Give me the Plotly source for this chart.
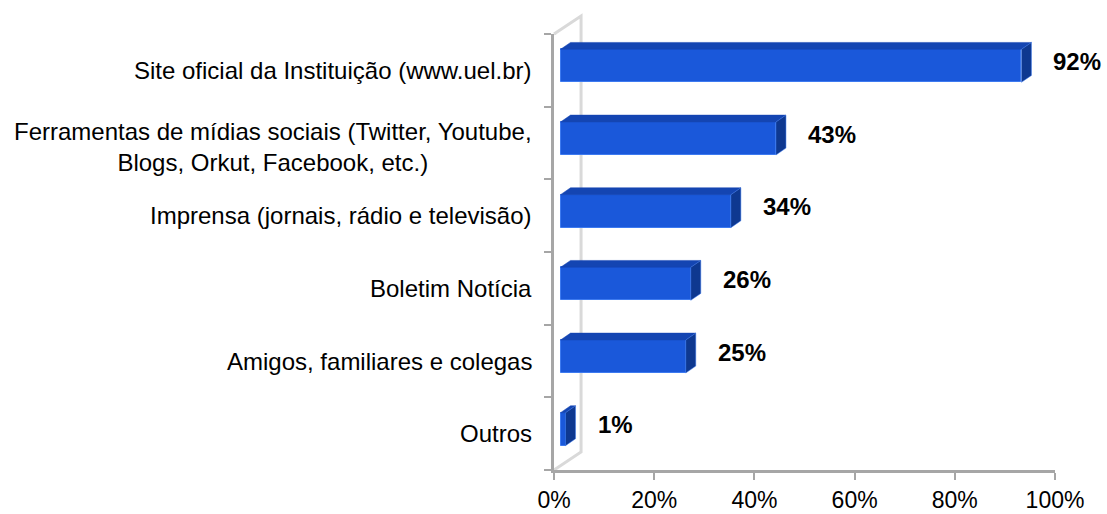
import plotly.graph_objects as go

# ---- data ----
categories = [
    "Site oficial da Instituição (www.uel.br)",
    "Ferramentas de mídias sociais (Twitter, Youtube,<br>Blogs, Orkut, Facebook, etc.)",
    "Imprensa (jornais, rádio e televisão)",
    "Boletim Notícia",
    "Amigos, familiares e colegas",
    "Outros",
]
values = [92, 43, 34, 26, 25, 1]
value_labels = ["92%", "43%", "34%", "26%", "25%", "1%"]
x_ticks = [0, 20, 40, 60, 80, 100]
x_tick_labels = ["0%", "20%", "40%", "60%", "80%", "100%"]

# ---- style / 3D geometry (in axis units) ----
FONT = "Liberation Sans, Arial, sans-serif"
FS = 24
C_FRONT = "#1a58da"
C_TOP = "#1445b2"
C_SIDE = "#0e3890"
C_EDGE = "#3d7af0"
AX_COL = "#a6a6a6"
WALL_COL = "#d9d9d9"

n = len(categories)
pos = [n - 1 - i for i in range(n)]          # top category at the top
dxf, dyf = 1.3, 0.062                          # front face offset
dxb, dyb = 3.3, 0.157                          # back face offset
bh = 0.454                                     # bar thickness
dxw, dyw = 5.4, 0.248                          # side wall depth
X_MAX = 100
Y_RANGE = [-0.5, n - 0.5]

fig = go.Figure()

# side wall outline inside the plot area (base axes, underneath the bar layer)
fig.add_trace(go.Scatter(
    x=[0, dxw, dxw, 0],
    y=[Y_RANGE[1], Y_RANGE[1] + dyw, Y_RANGE[0] + dyw, Y_RANGE[0]],
    mode="lines", line=dict(color=WALL_COL, width=3),
    hoverinfo="skip", showlegend=False, xaxis="x", yaxis="y"))

# upper edge of the wall, which lies above the plot area
wx = dxw / X_MAX
wy = dyw / n
fig.add_shape(type="path", xref="x domain", yref="y domain", layer="above",
              path=f"M 0,1 L {wx},{1 + wy} L {wx},1",
              line=dict(color=WALL_COL, width=3))

# front faces (overlay axes, so they sit on top of the wall)
fig.add_trace(go.Bar(
    orientation="h", x=values, base=[dxf] * n,
    y=[p + dyf for p in pos], width=bh,
    marker=dict(color=C_FRONT, line=dict(color=C_EDGE, width=1)),
    showlegend=False, hoverinfo="skip", xaxis="x2", yaxis="y2"))

# top faces and side faces
tx, ty, sx, sy = [], [], [], []
for v, p in zip(values, pos):
    yf_top = p + dyf + bh / 2
    yb_top = p + dyb + bh / 2
    yf_bot = p + dyf - bh / 2
    yb_bot = p + dyb - bh / 2
    tx += [dxf, dxf + v, dxb + v, dxb, dxf, None]
    ty += [yf_top, yf_top, yb_top, yb_top, yf_top, None]
    sx += [dxf + v, dxf + v, dxb + v, dxb + v, dxf + v, None]
    sy += [yf_bot, yf_top, yb_top, yb_bot, yf_bot, None]

fig.add_trace(go.Scatter(x=tx, y=ty, mode="lines", fill="toself",
                         fillcolor=C_TOP, line=dict(color=C_TOP, width=0.5),
                         hoverinfo="skip", showlegend=False,
                         xaxis="x2", yaxis="y2"))
fig.add_trace(go.Scatter(x=sx, y=sy, mode="lines", fill="toself",
                         fillcolor=C_SIDE, line=dict(color=C_EDGE, width=0.5),
                         hoverinfo="skip", showlegend=False,
                         xaxis="x2", yaxis="y2"))

# category labels
for c, p in zip(categories, pos):
    fig.add_annotation(x=0, y=p, xref="x", yref="y", text=c, showarrow=False,
                       xanchor="right", yanchor="middle", align="center",
                       xshift=-20, yshift=(-4 if "<br>" in c else 0),
                       font=dict(family=FONT, size=FS, color="#000"))

# value labels
for v, p, t in zip(values, pos, value_labels):
    fig.add_annotation(x=v + dxb, y=p + 0.12, xref="x", yref="y", text="<b>" + t + "</b>",
                       showarrow=False, xanchor="left", yanchor="middle",
                       xshift=20, font=dict(family=FONT, size=FS, color="#000"))

fig.update_layout(
    width=1107, height=514,
    margin=dict(l=554, r=52, t=34, b=44),
    paper_bgcolor="white", plot_bgcolor="white",
    bargap=0,
    font=dict(family=FONT, size=FS, color="#000"),
    xaxis=dict(range=[0, X_MAX], tickvals=x_ticks, ticktext=x_tick_labels,
               showgrid=False, zeroline=False, showline=True, automargin=False,
               linecolor=AX_COL, linewidth=3, ticks="outside", ticklen=7,
               tickwidth=2, tickcolor=AX_COL,
               tickfont=dict(size=23, color="#000")),
    yaxis=dict(range=Y_RANGE, automargin=False,
               tickvals=[i - 0.5 for i in range(n + 1)],
               ticktext=[""] * (n + 1),
               showgrid=False, zeroline=False, showline=True,
               linecolor=AX_COL, linewidth=3, ticks="outside", ticklen=7,
               tickwidth=2, tickcolor=AX_COL),
    xaxis2=dict(range=[0, X_MAX], overlaying="x", visible=False),
    yaxis2=dict(range=Y_RANGE, overlaying="y", visible=False),
)

fig.write_html("out.html", config={"displayModeBar": False},
               post_script="document.body.style.margin='0';")
